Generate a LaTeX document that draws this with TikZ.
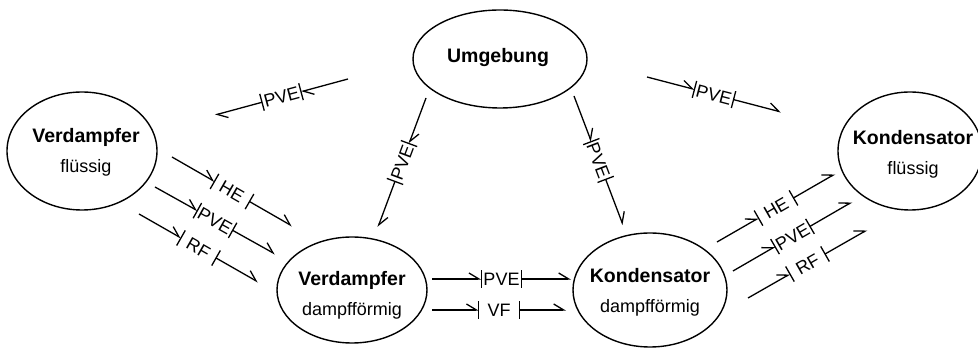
\documentclass[tikz,border=0pt]{standalone}
\usepackage{fontspec}
\setmainfont{Liberation Sans}
\usetikzlibrary{arrows.meta,shapes.geometric}

\tikzset{
  tank/.style={draw,ellipse,line width=1.4pt,inner sep=0pt},
  tanktext/.style={align=center,font=\fontsize{18}{30}\selectfont},
  flowline/.style={line width=1.3pt,-{Straight Barb[left,length=10pt,width=12pt,line width=1.3pt]}},
  flowlbl/.style={inner sep=0pt,minimum width=40pt,minimum height=17pt,text height=13pt,text depth=0pt,font=\fontsize{18}{18}\selectfont,sloped},
}
\newcommand{\tankname}[1]{{\fontsize{19.5}{30}\selectfont\bfseries #1}}
% arrow with a boxed label: name, start, end, label
\newcommand{\flowarrow}[4]{%
  \path (#2) -- node[flowlbl] (#1) {#4} (#3);
  \draw[flowline] (#2) -- (#1);
  \draw[flowline] (#1) -- (#3);
  \draw[line width=1.3pt] (#1.north west) -- (#1.south west) (#1.north east) -- (#1.south east);
}

\begin{document}
\begin{tikzpicture}[x=1pt,y=-1pt]
  \useasboundingbox (0,0) rectangle (978,352);
  % Tanks
  \node[tank,minimum width=174pt,minimum height=98pt] (umg) at (500,59) {};
  \node[tanktext] (umgtxt) at (498,58) {\tankname{Umgebung}};
  \node[tank,minimum width=150pt,minimum height=118pt] (vfl) at (82,151) {};
  \node[tanktext] (vfltxt) at (86,152) {\tankname{Verdampfer}\\flüssig};
  \node[tank,minimum width=150pt,minimum height=106pt] (vdf) at (352,290) {};
  \node[tanktext] (vdftxt) at (352,295) {\tankname{Verdampfer}\\dampfförmig};
  \node[tank,minimum width=154pt,minimum height=114pt] (kdf) at (650,290) {};
  \node[tanktext] (kdftxt) at (650,292) {\tankname{Kondensator}\\dampfförmig};
  \node[tank,minimum width=144pt,minimum height=118pt] (kfl) at (910,151) {};
  \node[tanktext] (kfltxt) at (913,154) {\tankname{Kondensator}\\flüssig};
  % Arrow ends
  \coordinate (a1s) at (348,79);  \coordinate (a1e) at (215,115);
  \coordinate (a2s) at (647,77);  \coordinate (a2e) at (781,112);
  \coordinate (a3s) at (426,98);  \coordinate (a3e) at (378,227);
  \coordinate (a4s) at (574,96);  \coordinate (a4e) at (623,225);
  \coordinate (b1s) at (172,157); \coordinate (b1e) at (292,226);
  \coordinate (b2s) at (155,187); \coordinate (b2e) at (275,254);
  \coordinate (b3s) at (139,214); \coordinate (b3e) at (258,282);
  \coordinate (c1s) at (432,279); \coordinate (c1e) at (571,279);
  \coordinate (c2s) at (432,310); \coordinate (c2e) at (566,310);
  \coordinate (d1s) at (717,242); \coordinate (d1e) at (835,174);
  \coordinate (d2s) at (733,271); \coordinate (d2e) at (852,202);
  \coordinate (d3s) at (748,298); \coordinate (d3e) at (867,230);
  % Umgebung
  \flowarrow{umgvfl}{a1s}{a1e}{PVE}
  \flowarrow{umgkfl}{a2s}{a2e}{PVE}
  \flowarrow{umgvdf}{a3s}{a3e}{PVE}
  \flowarrow{umgkdf}{a4s}{a4e}{PVE}
  % Verdampfer
  \flowarrow{vflhe}{b1s}{b1e}{HE}
  \flowarrow{vflpve}{b2s}{b2e}{PVE}
  \flowarrow{vflrf}{b3s}{b3e}{RF}
  % Verdampfer to Kondensator
  \flowarrow{vdfpve}{c1s}{c1e}{PVE}
  \flowarrow{vdfvf}{c2s}{c2e}{VF}
  % Kondensator
  \flowarrow{kdfhe}{d1s}{d1e}{HE}
  \flowarrow{kdfpve}{d2s}{d2e}{PVE}
  \flowarrow{kdfrf}{d3s}{d3e}{RF}
\end{tikzpicture}
\end{document}
